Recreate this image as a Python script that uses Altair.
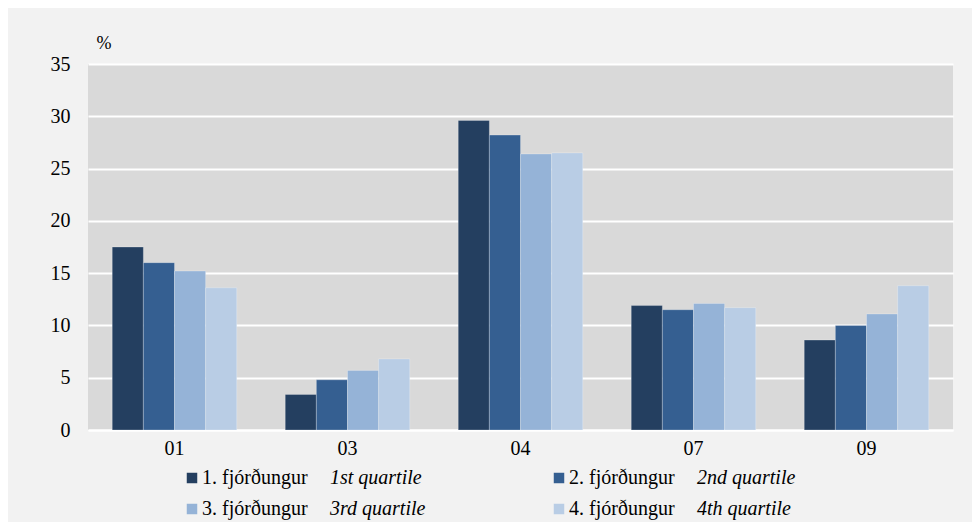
import altair as alt
import pandas as pd

categories = ["01", "03", "04", "07", "09"]
series_is = ["1. fjórðungur", "2. fjórðungur", "3. fjórðungur", "4. fjórðungur"]
series_en = ["1st quartile", "2nd quartile", "3rd quartile", "4th quartile"]
q1 = [17.5, 3.4, 29.6, 11.9, 8.6]
q2 = [16.0, 4.8, 28.2, 11.5, 10.0]
q3 = [15.2, 5.7, 26.4, 12.1, 11.1]
q4 = [13.6, 6.8, 26.5, 11.7, 13.8]
colors = ["#243f60", "#355f91", "#95b3d7", "#b9cde5"]
y_ticks = [0, 5, 10, 15, 20, 25, 30, 35]

rows = []
for s, vals in zip(series_is, [q1, q2, q3, q4]):
    for c, v in zip(categories, vals):
        rows.append({"cat": c, "series": s, "value": v})
df = pd.DataFrame(rows)

leg = pd.DataFrame({
    "series": series_is,
    "en": series_en,
    "col": [i % 2 for i in range(4)],
    "row": [i // 2 for i in range(4)],
})

FONT = "'Liberation Serif', 'Times New Roman', 'DejaVu Serif', serif"
color_scale = alt.Scale(domain=series_is, range=colors)

bars = alt.Chart(df).mark_bar(stroke="#ffffff", strokeOpacity=0.25, strokeWidth=1).encode(
    x=alt.X("cat:N", sort=categories, title=None,
            scale=alt.Scale(paddingInner=0.28, paddingOuter=0.14),
            axis=alt.Axis(labelAngle=0, labelFont=FONT, labelFontSize=20, labelColor="#000",
                          labelPadding=8, ticks=False, domain=True, domainColor="#ffffff",
                          domainWidth=2, grid=False)),
    xOffset=alt.XOffset("series:N", sort=series_is),
    y=alt.Y("value:Q", title="%",
            scale=alt.Scale(domain=[0, 35], nice=False),
            axis=alt.Axis(values=y_ticks, labelFont=FONT, labelFontSize=20, labelColor="#000",
                          labelPadding=18, ticks=False, domain=False,
                          grid=True, gridColor="#ffffff", gridWidth=2,
                          titleAngle=0, titleFont=FONT, titleFontSize=18,
                          titleFontWeight="normal", titleColor="#000",
                          titleAlign="left", titleBaseline="alphabetic",
                          titleX=8, titleY=-16)),
    color=alt.Color("series:N", scale=color_scale, legend=None),
)

leg_x = alt.Scale(domain=[0, 1], range=[104, 471], nice=False, zero=False)
leg_y = alt.Scale(domain=[0, 1], range=[414, 445], nice=False, zero=False)

leg_base = alt.Chart(leg).encode(
    x=alt.X("col:Q", scale=leg_x, axis=None, title=None),
    y=alt.Y("row:Q", scale=leg_y, axis=None, title=None),
)
leg_sq = leg_base.mark_square(size=110, opacity=1).encode(
    color=alt.Color("series:N", scale=color_scale, legend=None))
leg_txt = leg_base.mark_text(align="left", baseline="middle", dx=10, font=FONT,
                             fontSize=20, color="#000").encode(text="series:N")
leg_en = leg_base.mark_text(align="left", baseline="middle", dx=138, font=FONT,
                            fontSize=20, fontStyle="italic", color="#000").encode(text="en:N")

legend_layer = alt.layer(leg_sq, leg_txt, leg_en)

chart = alt.layer(bars, legend_layer).resolve_scale(
    x="independent", y="independent"
).properties(
    width=865, height=366,
    background="#f2f2f2",
    padding={"left": 80, "top": 56, "right": 19, "bottom": 92},
    autosize=alt.AutoSizeParams(type="none"),
).configure_view(fill="#d9d9d9", stroke=None)

chart.save("out.html", embed_options={"renderer": "svg", "actions": False})
